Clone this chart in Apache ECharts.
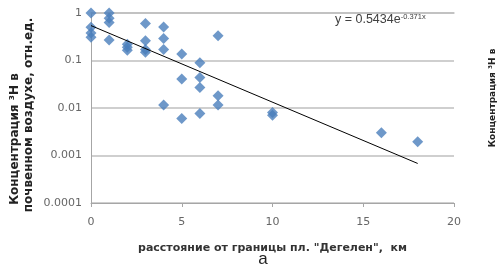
<!DOCTYPE html>
<html><head><meta charset="utf-8">
<script src="https://cdn.jsdelivr.net/npm/echarts@6/dist/echarts.min.js"></script>
<style>html,body{margin:0;padding:0;background:#fff}#c{width:504px;height:269px}</style>
</head><body><div id="c"></div>
<script>
var distX = [0,0,0,0, 1,1,1,1, 2,2,2, 3,3,3,3, 4,4,4,4, 5,5,5, 6,6,6,6, 7,7,7, 10,10, 16, 18];
var conc  = [1.0,0.5,0.38,0.31, 1.0,0.78,0.63,0.27, 0.22,0.19,0.165, 0.6,0.26,0.17,0.15, 0.51,0.29,0.17,0.0116, 0.137,0.041,0.006, 0.09,0.044,0.027,0.0077, 0.33,0.018,0.0116, 0.008,0.007, 0.003, 0.00195];
var trendX = [0, 18];
var trendY = [0.5434, 0.00068];
var xTicks = [0,5,10,15,20];
var yTicks = [0.0001,0.001,0.01,0.1,1];

var pts = distX.map(function(x,i){return [x, conc[i]];});
var trend = trendX.map(function(x,i){return [x, trendY[i]];});

var chart = echarts.init(document.getElementById('c'), null, {renderer:'canvas'});
chart.setOption({
  animation:false,
  grid:{left:91, right:50, top:13, bottom:66},
  xAxis:[{type:'value', min:0, max:20, interval:5,
    name:'расстояние от границы пл. "Дегелен",  км', nameLocation:'middle', nameGap:40,
    nameTextStyle:{fontFamily:'DejaVu Sans', fontSize:11, fontWeight:'bold', color:'#333'},
    axisLine:{lineStyle:{color:'#a6a6a6'}},
    axisTick:{show:true, length:4, lineStyle:{color:'#a6a6a6'}},
    axisLabel:{fontFamily:'DejaVu Sans', fontSize:11, color:'#666', margin:14},
    splitLine:{show:false}
  },{type:'value', position:'top', min:0, max:20,
    axisLine:{show:true, onZero:false, lineStyle:{color:'#bfbfbf', width:1.5}},
    axisTick:{show:false}, axisLabel:{show:false}, splitLine:{show:false}
  }],
  yAxis:{type:'log', min:0.0001, max:1, logBase:10,
    axisLine:{show:true, lineStyle:{color:'#a6a6a6'}},
    axisTick:{show:false},
    axisLabel:{fontFamily:'DejaVu Sans', fontSize:11, color:'#666', margin:9,
      formatter:function(v){ var m = yTicks.filter(function(t){return Math.abs(Math.log10(t)-Math.log10(v))<1e-6;}); return m.length? String(m[0]) : ''; }},
    splitLine:{lineStyle:{color:'#bfbfbf', width:1.5}}
  },
  series:[
    {type:'scatter', data:pts, symbol:'diamond', symbolSize:11, itemStyle:{color:'#4a7ebb'}, z:3},
    {type:'line', data:trend, symbol:'none', lineStyle:{color:'#000', width:1}, z:4}
  ],
  graphic:[
    {type:'text', x:15, y:139, rotation:Math.PI/2, style:{text:'Концентрация ³Н в', fontFamily:'DejaVu Sans', fontSize:12, fontWeight:'bold', fill:'#222', align:'center', verticalAlign:'middle'}},
    {type:'text', x:29, y:115, rotation:Math.PI/2, style:{text:'почвенном воздухе, отн.ед.', fontFamily:'DejaVu Sans', fontSize:12, fontWeight:'bold', fill:'#222', align:'center', verticalAlign:'middle'}},
    {type:'text', x:493, y:98, rotation:Math.PI/2, style:{text:'Концентрация ³Н в', fontFamily:'DejaVu Sans', fontSize:9, fontWeight:'bold', fill:'#222', align:'center', verticalAlign:'middle'}},
    {type:'text', x:335, y:20, style:{rich:{a:{fontFamily:'Liberation Sans', fontSize:12.5, fill:'#404040'}, b:{fontFamily:'Liberation Sans', fontSize:7.5, fill:'#404040', verticalAlign:'top', padding:[0,0,6,0]}}, text:'{a|y = 0.5434e}{b|-0.371x}', verticalAlign:'middle'}},
    {type:'text', x:263, y:259, style:{text:'а', fontFamily:'Liberation Sans', fontSize:17, fill:'#222', align:'center', verticalAlign:'middle'}}
  ]
});
</script></body></html>
